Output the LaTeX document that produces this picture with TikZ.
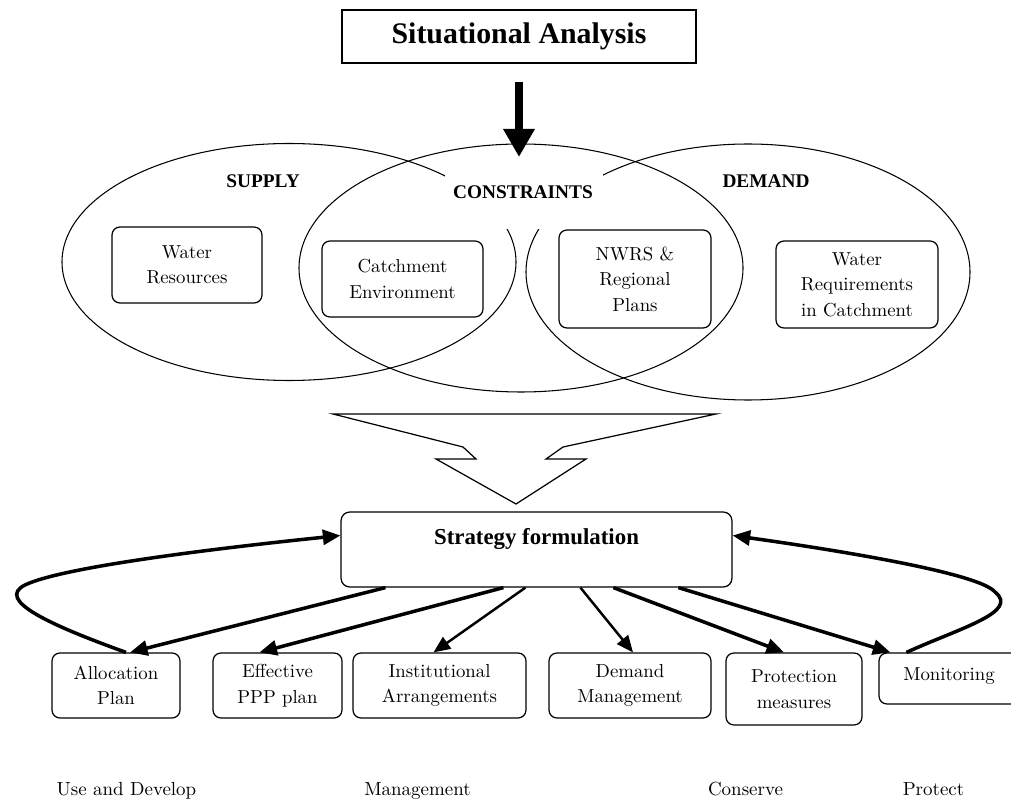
\documentclass[tikz,border=0pt]{standalone}
\usepackage{fontspec}
\usepackage{tikz}
\usetikzlibrary{arrows.meta,calc}
\newfontfamily\headfont{Liberation Serif}

\begin{document}
\begin{tikzpicture}[x=0.02cm, y=-0.02cm,
	box/.style={draw, rounded corners=4.5pt, line width=0.7pt, align=center, inner sep=0pt, font=\fontsize{10.7}{14.5}\selectfont},
	txt/.style={font=\fontsize{10.8}{14.5}\selectfont},
	head/.style={font=\headfont\bfseries\fontsize{11}{13}\selectfont},
	thickarrow/.style={line width=2pt, -{Triangle[length=10pt, width=8.5pt]}},
	thinarrow/.style={line width=1.4pt, -{Triangle[length=9.5pt, width=8pt]}}]
			\clip (0,0) rectangle (1011,800);
			%title and arrow into the venn diagram
			\node[draw, line width=0.7pt, minimum width=7.08cm, minimum height=1.06cm, font=\headfont\bfseries\fontsize{17}{20}\selectfont] (sit) at (519,36.5) {Situational Analysis};
			\coordinate (venntop) at (519,157);
			\draw[line width=4.5pt, -{Triangle[length=16pt, width=17pt]}] ($(sit.south)+(0,18)$) -- (venntop);
			%venn ellipses
			\draw[line width=0.6pt] (289,262) ellipse [x radius=227, y radius=118.5];
			\draw[line width=0.6pt] (748,272) ellipse [x radius=222, y radius=128];
			\fill[white] (445,170) rectangle (603,229);
			\draw[line width=0.6pt] (521,268) ellipse [x radius=222, y radius=124];
			\node[head, anchor=base] (supply) at (263,188) {SUPPLY};
			\node[head, anchor=base] (constr) at (523,199) {CONSTRAINTS};
			\node[head, anchor=base] (demand) at (766,188) {DEMAND};
			\node[box, minimum width=3cm, minimum height=1.52cm] (wres) at (187,265) {Water\\Resources};
			\node[box, minimum width=3.22cm, minimum height=1.52cm] (catch) at (402.5,279) {Catchment\\Environment};
			\node[box, minimum width=3.04cm, minimum height=1.96cm] (nwrs) at (635,279) {NWRS \&\\Regional\\Plans};
			\node[box, minimum width=3.24cm, minimum height=1.74cm] (wreq) at (857,284.5) {Water\\Requirements\\in Catchment};
			%funnel arrow
			\draw[line width=0.7pt] (333,414) -- (463,447) -- (476,459) -- (436,459) -- (516,504) -- (586,459) -- (546,459) -- (563,447) -- (716,414) -- cycle;
			%strategy and its parts
			\node[box, rounded corners=5pt, minimum width=7.82cm, minimum height=1.5cm, text height=9pt, text depth=14.2pt, font=\headfont\bfseries\fontsize{13}{14}\selectfont] (strat) at (536.5,549.5) {Strategy formulation};
			\node[box, minimum width=2.56cm, minimum height=1.3cm] (alloc) at (116,685.5) {Allocation\\Plan};
			\node[box, minimum width=2.58cm, minimum height=1.3cm] (ppp) at (277.5,685.5) {Effective\\PPP plan};
			\node[box, minimum width=3.46cm, minimum height=1.3cm] (inst) at (439.5,685.5) {Institutional\\Arrangements};
			\node[box, minimum width=3.24cm, minimum height=1.3cm] (dmd) at (630,685.5) {Demand\\Management};
			\node[box, minimum width=2.72cm, minimum height=1.44cm] (prot) at (794,689) {Protection\\measures};
			\node[box, minimum width=2.8cm, minimum height=1.02cm, text depth=5pt] (mon) at (949,678.5) {Monitoring};
			\draw[thickarrow] ($(strat.south west)+(45,0)$) -- ($(alloc.north)+(14,0)$);
			\draw[thickarrow] ($(strat.south west)+(163,0)$) -- ($(ppp.north)+(-18,0)$);
			\draw[thinarrow] ($(strat.south west)+(185,0)$) -- ($(inst.north)+(-6,0)$);
			\draw[thinarrow] ($(strat.south west)+(240,0)$) -- ($(dmd.north)+(3,0)$);
			\draw[thickarrow] ($(strat.south west)+(273,0)$) -- ($(prot.north)+(-10,0)$);
			\draw[thickarrow] ($(strat.south west)+(338,0)$) -- ($(mon.north west)+(12,0)$);
			%feedback loops
			\draw[thickarrow] ($(alloc.north)+(10,0)$) .. controls (50,625) and (-5,600) .. (25,585) .. controls (60,568) and (200,550) .. ($(strat.west)+(0,-14)$);
			\draw[thickarrow] ($(mon.north west)+(28,0)$) .. controls (960,628) and (1020,612) .. (995,592) .. controls (980,574) and (850,552) .. ($(strat.east)+(0,-14)$);
			%headings below
			\node[txt, anchor=base] (usedev) at (126.5,795) {Use and Develop};
			\node[txt, anchor=base] (manage) at (417.5,795) {Management};
			\node[txt, anchor=base] (conserve) at (745.5,795) {Conserve};
			\node[txt, anchor=base] (protect) at (933.5,795) {Protect};
		\end{tikzpicture}
\end{document}
